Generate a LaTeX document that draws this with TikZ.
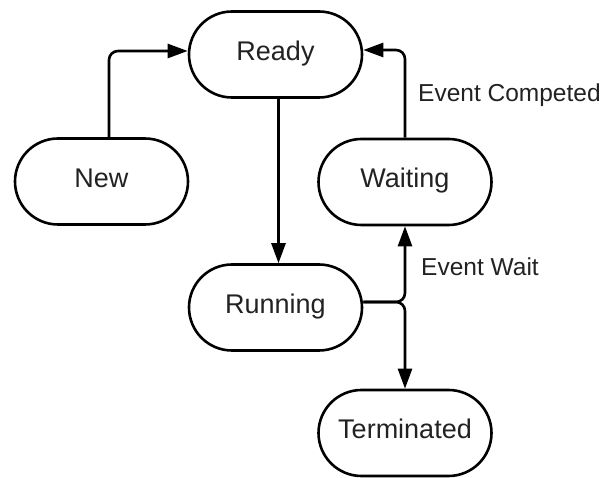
\documentclass[tikz,border=0pt]{standalone}
\usepackage{fontspec}
\setmainfont{Liberation Sans}
\usetikzlibrary{arrows.meta}
\definecolor{textgray}{HTML}{222222}
\begin{document}
\begin{tikzpicture}[x=1pt,y=-1pt,
  state/.style={draw=black, line width=2.6pt, rounded corners=43pt,
    minimum width=173pt, minimum height=86pt, inner sep=0pt,
    text=textgray, font=\fontsize{27}{32}\selectfont,
    text height=19.5pt, text depth=8pt},
  flow/.style={draw=black, line width=2.6pt, rounded corners=9pt,
    -{Triangle[length=20pt,width=14pt]}},
  lbl/.style={text=textgray, font=\fontsize{24.5}{29}\selectfont, inner sep=0pt}]
\useasboundingbox (0,0) rectangle (606,478);

% states
\node[state] (ready)      at (275.5, 54.5) {Ready};
\node[state] (new)        at (101.5,181.5) {New};
\node[state] (waiting)    at (405,  182)   {Waiting};
\node[state] (running)    at (275.5,307.5) {Running};
\node[state] (terminated) at (405,  433)   {Terminated};

% transitions
\draw[flow] ([xshift=7.5pt]new.north) |- ([yshift=3.5pt]ready.west);
\draw[flow] ([xshift=3pt]ready.south) -- ([xshift=3pt]running.north);
\draw[flow] (waiting.north) |- ([yshift=4.5pt]ready.east);
\draw[flow] ([yshift=5.5pt]running.east) -| (waiting.south);
\draw[flow] ([yshift=5.5pt]running.east) -| (terminated.north);

% transition labels
\node[lbl, anchor=base west] (lcomp) at (418,101.5) {Event Competed};
\node[lbl, anchor=base west] (lwait) at (421,276) {Event Wait};
\end{tikzpicture}
\end{document}
